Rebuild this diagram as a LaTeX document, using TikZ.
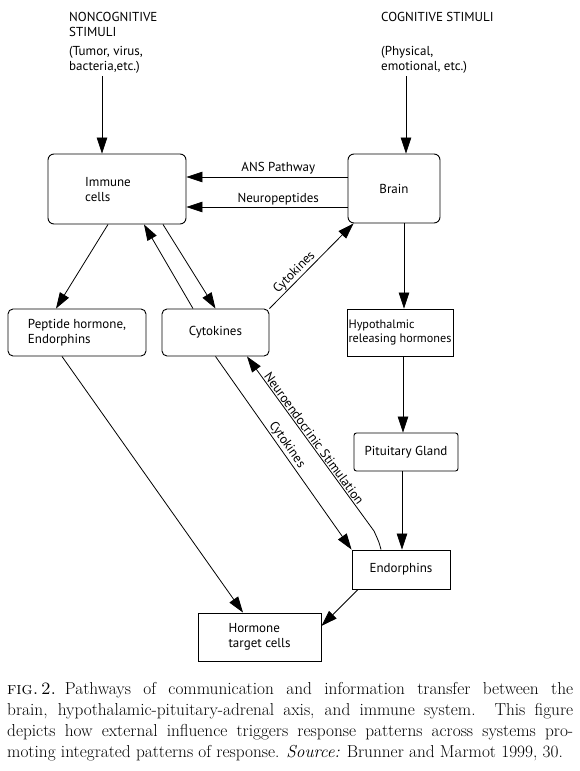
\documentclass[tikz,border=0pt]{standalone}
\usepackage{fontspec}
\newfontfamily\diag{PT Sans}
\usetikzlibrary{arrows.meta,calc}
\begin{document}
\begin{tikzpicture}[x=1pt,y=-1pt,
  every node/.style={font=\diag\fontsize{13}{15}\selectfont, inner sep=0pt},
  box/.style={draw, line width=0.9pt, align=left},
  arr/.style={line width=0.8pt, -{Triangle[length=16pt,width=10.5pt]}},
  lab/.style={sloped, above=1pt}]
\useasboundingbox (0,0) rectangle (580,771);

% stimuli texts
\node[anchor=north west, align=left] (noncog) at (69,12.5)
  {NONCOGNITIVE\\STIMULI\\[3.5pt](Tumor, virus,\\bacteria,etc.)};
\node[anchor=north west, align=left] (cog) at (381,12.5)
  {COGNITIVE STIMULI\\[18.5pt](Physical,\\emotional, etc.)};
\coordinate (nc) at (102,76);
\coordinate (cg) at (406,76);

% boxes
\node[box, rounded corners=6pt, minimum width=138pt, minimum height=70pt] (imm) at (117,189) {};
\node[anchor=west, align=left] (immt) at (85,190) {Immune\\cells};
\node[box, rounded corners=6pt, minimum width=92pt, minimum height=69pt] (brain) at (394,188.5) {Brain};
\node[box, rounded corners=5pt, minimum width=138pt, minimum height=47pt] (pep) at (77,332.5) {Peptide hormone,\\Endorphins};
\node[box, rounded corners=5pt, minimum width=107pt, minimum height=47pt] (cyto) at (215.5,332.5) {Cytokines};
\node[box, minimum width=106pt, minimum height=47pt, font=\diag\fontsize{12.2}{14}\selectfont] (hypo) at (400,332.5) {Hypothalmic\\releasing hormones};
\node[box, rounded corners=2.5pt, minimum width=104pt, minimum height=38pt] (pit) at (406,452) {Pituitary Gland};
\node[box, minimum width=98pt, minimum height=39pt] (endo) at (401,569.5) {Endorphins};
\node[box, minimum width=123pt, minimum height=48pt] (horm) at (259.5,637) {Hormone\\target cells};

% connectors
\draw[arr] (nc) -- (nc |- imm.north);
\draw[arr] (cg) -- (cg |- brain.north);
\draw[arr] ([yshift=11.5pt]brain.west) -- node[above=2pt, pos=0.43] (ansl) {ANS Pathway} ([yshift=11.5pt]brain.west -| imm.east);
\draw[arr] ([yshift=-18.5pt]brain.west) -- node[above=2pt, pos=0.43] (npl) {Neuropeptides} ([yshift=-18.5pt]brain.west -| imm.east);
\draw[arr] ([xshift=-9pt]imm.south) -- ([xshift=-21pt]pep.north);
\draw[arr] ([xshift=-22.5pt]cyto.north) -- ([xshift=27pt]imm.south);
\draw[arr] ([xshift=46pt]imm.south) -- (cyto.north);
\draw[arr] (cyto.north east) -- node[lab, pos=0.36] (ckb) {Cytokines} ([xshift=6pt]brain.south west);
\draw[arr] ([xshift=10pt]brain.south) -- ([xshift=10pt]brain.south |- hypo.north);
\draw[arr] ([xshift=3pt]hypo.south) -- ([xshift=3pt]hypo.south |- pit.north);
\draw[arr] ([xshift=-4pt]pit.south) -- ([xshift=-4pt]pit.south |- endo.north);
\draw[arr] ([xshift=-43pt]endo.south) -- ([yshift=11pt]horm.east);
\draw[arr] ([xshift=-15pt]pep.south) -- ([xshift=-16.5pt]horm.north);
\draw[arr] (cyto.south) -- node[lab, pos=0.48] (cke) {Cytokines} (endo.north west);
\coordinate (nb) at (374,531);
\draw[arr] ([xshift=-20pt]endo.north) .. controls (379,542) .. (nb)
  -- node[lab, pos=0.51] (nsl) {Neuroendocrinic Stimulation} ([xshift=31.5pt]cyto.south);

% caption
\node[anchor=north west, text width=566pt, align=justify,
  font=\rmfamily\fontsize{17.3}{21}\selectfont] (cap) at (7,682.5)
  {\hyphenpenalty=10000\parfillskip=0pt
  \textsc{fig.\,2.}\enspace Pathways of communication and information transfer between the\linebreak
  brain, hypothalamic-pituitary-adrenal axis, and immune system. This figure\linebreak
  depicts how external influence triggers response patterns across systems pro-\linebreak
  moting integrated patterns of response. \textit{Source:} Brunner and Marmot 1999, 30.};
\end{tikzpicture}
\end{document}
